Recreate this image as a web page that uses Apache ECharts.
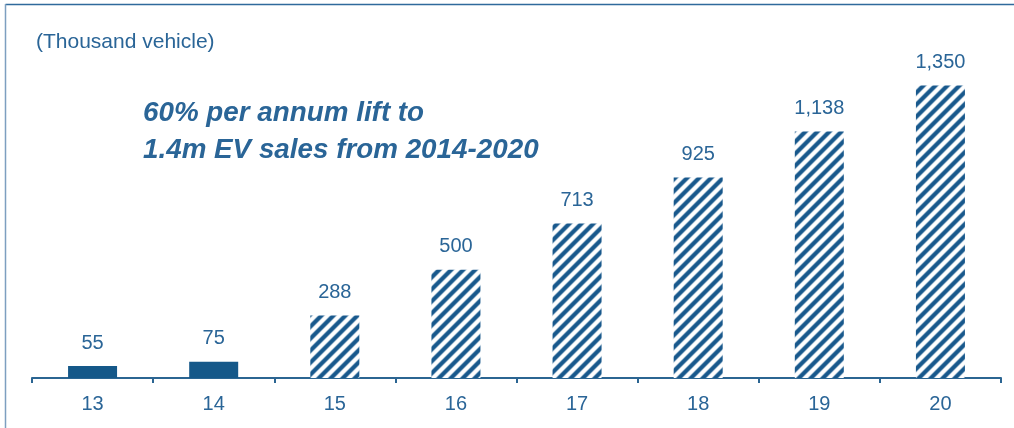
<!DOCTYPE html>
<html><head><meta charset="utf-8">
<script src="https://cdn.jsdelivr.net/npm/echarts@6/dist/echarts.min.js"></script>
<style>html,body{margin:0;padding:0;background:#fff}#c{width:1014px;height:428px}</style>
</head><body><div id="c"></div>
<script>
var categories = ['13','14','15','16','17','18','19','20'];
var actualValues = [55, 75, null, null, null, null, null, null];
var forecastValues = [null, null, 288, 500, 713, 925, 1138, 1350];
var unitLabel = '(Thousand vehicle)';
var headline = '60% per annum lift to\n1.4m EV sales from 2014-2020';

var TXT = '#2a6597';
var BAR = '#155889';

function hatch() {
  var P = 12, c = document.createElement('canvas');
  c.width = P; c.height = P;
  var g = c.getContext('2d');
  var img = g.createImageData(P, P);
  var dark = [24, 88, 140];
  for (var y = 0; y < P; y++) {
    for (var x = 0; x < P; x++) {
      var ph = ((x + y) % P) / P;
      var v = 0.5 + 0.85 * Math.cos(2 * Math.PI * ph);
      v = Math.max(0, Math.min(1, v));
      var i = (y * P + x) * 4;
      img.data[i] = Math.round(255 + (dark[0] - 255) * v);
      img.data[i + 1] = Math.round(255 + (dark[1] - 255) * v);
      img.data[i + 2] = Math.round(255 + (dark[2] - 255) * v);
      img.data[i + 3] = 255;
    }
  }
  g.putImageData(img, 0, 0);
  return c;
}

function fmt(p) { return p.value == null ? '' : p.value.toLocaleString('en-US'); }

var chart = echarts.init(document.getElementById('c'), null, {renderer: 'canvas'});
chart.setOption({
  animation: false,
  backgroundColor: '#ffffff',
  textStyle: {fontFamily: 'Liberation Sans, Arial, sans-serif'},
  title: [
    {text: unitLabel, left: 31, top: 27, textStyle: {fontSize: 21, fontWeight: 'normal', color: TXT, fontFamily: 'Liberation Sans'}},
    {text: headline, left: 138, top: 90, textStyle: {fontSize: 27.8, fontWeight: 'bold', fontStyle: 'italic', color: TXT, lineHeight: 37, fontFamily: 'Liberation Sans'}}
  ],
  graphic: [
    {type: 'line', shape: {x1: 5.5, y1: 4.5, x2: 1014, y2: 4.5}, style: {stroke: '#2f6a9c', lineWidth: 1.5}},
    {type: 'line', shape: {x1: 5.5, y1: 4, x2: 5.5, y2: 428}, style: {stroke: '#7d9fc0', lineWidth: 1.5}}
  ],
  grid: {left: 32, right: 13, top: 53, bottom: 50},
  xAxis: {
    type: 'category', data: categories,
    axisLine: {lineStyle: {color: '#2b6592', width: 2}},
    axisTick: {show: true, length: 5, lineStyle: {color: '#2b6592', width: 2}},
    axisLabel: {color: TXT, fontSize: 20, margin: 16, fontFamily: 'Liberation Sans'}
  },
  yAxis: {type: 'value', min: 0, max: 1500, show: false, splitLine: {show: false}},
  series: [
    {type: 'bar', data: actualValues, barWidth: 49, barGap: '-100%',
     itemStyle: {color: BAR},
     label: {show: true, position: 'top', distance: 13, color: TXT, fontSize: 20, fontFamily: 'Liberation Sans', formatter: fmt}},
    {type: 'bar', data: forecastValues, barWidth: 49, barGap: '-100%',
     itemStyle: {color: {image: hatch(), repeat: 'repeat'}},
     label: {show: true, position: 'top', distance: 13, color: TXT, fontSize: 20, fontFamily: 'Liberation Sans', formatter: fmt}}
  ]
});
</script></body></html>
